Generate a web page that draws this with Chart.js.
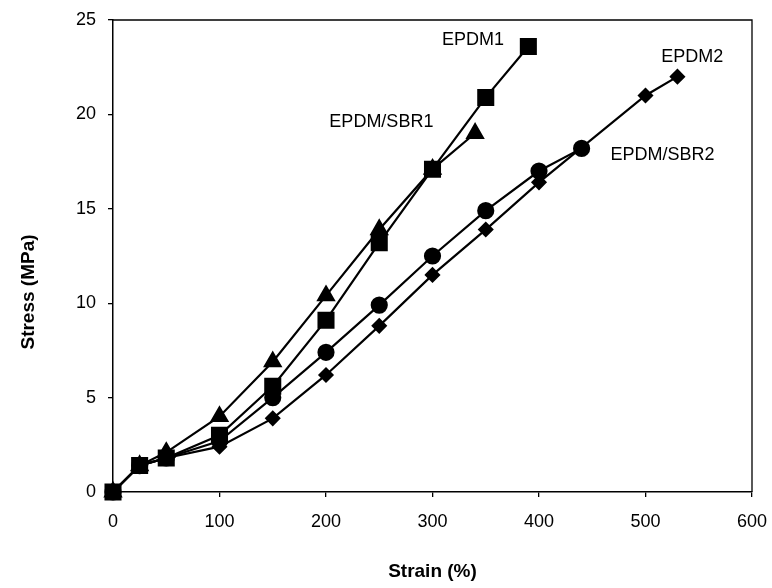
<!DOCTYPE html>
<html>
<head>
<meta charset="utf-8">
<script src="https://cdn.jsdelivr.net/npm/chart.js@4.4.1/dist/chart.umd.min.js"></script>
<style>
  html, body { margin: 0; padding: 0; background: #fff; }
  #wrap { width: 772px; height: 588px; position: relative; }
</style>
</head>
<body>
<div id="wrap"><canvas id="c" width="772" height="588"></canvas></div>
<script>
// ---- data ----
const epdm1Strain    = [0, 25, 50, 100, 150, 200, 250, 300, 350, 390];
const epdm1Stress    = [0, 1.4, 1.8, 3.0, 5.6, 9.1, 13.2, 17.1, 20.9, 23.6];

const epdmSbr1Strain = [0, 25, 50, 100, 150, 200, 250, 300, 340];
const epdmSbr1Stress = [0, 1.4, 2.1, 4.0, 6.9, 10.4, 13.9, 17.1, 19.0];

const epdmSbr2Strain = [0, 25, 50, 100, 150, 200, 250, 300, 350, 400, 440];
const epdmSbr2Stress = [0, 1.4, 1.8, 2.7, 5.0, 7.4, 9.9, 12.5, 14.9, 17.0, 18.2];

const epdm2Strain    = [0, 25, 50, 100, 150, 200, 250, 300, 350, 400, 500, 530];
const epdm2Stress    = [0, 1.4, 1.8, 2.4, 3.9, 6.2, 8.8, 11.5, 13.9, 16.4, 21.0, 22.0];

const seriesNames = ['EPDM1', 'EPDM/SBR1', 'EPDM/SBR2', 'EPDM2'];
const xTickValues = [0, 100, 200, 300, 400, 500, 600];
const yTickValues = [0, 5, 10, 15, 20, 25];
const xTitle = 'Strain (%)';
const yTitle = 'Stress (MPa)';

// in-plot series labels: [text, strain, stress] anchor (label centre)
const labelAnchors = [
  ['EPDM1', 338, 23.95],
  ['EPDM/SBR1', 252, 19.6],
  ['EPDM2', 544, 23.05],
  ['EPDM/SBR2', 516, 17.85]
];

const toPts = (xs, ys) => xs.map((x, i) => ({ x: x, y: ys[i] }));

const FONT = '"Liberation Sans", Arial, sans-serif';

const framePlugin = {
  id: 'frame',
  afterDraw(chart) {
    const { ctx, chartArea: a, scales } = chart;
    ctx.save();
    ctx.strokeStyle = '#000';
    ctx.lineWidth = 1.3;
    ctx.beginPath();
    ctx.moveTo(a.left, a.top);
    ctx.lineTo(a.right, a.top);
    ctx.lineTo(a.right, a.bottom);
    ctx.stroke();
    // series labels
    ctx.fillStyle = '#000';
    ctx.font = '18px ' + FONT;
    ctx.textAlign = 'center';
    ctx.textBaseline = 'middle';
    labelAnchors.forEach(([t, x, y]) => {
      ctx.fillText(t, scales.x.getPixelForValue(x), scales.y.getPixelForValue(y));
    });
    // y axis title
    ctx.font = 'bold 19px ' + FONT;
    ctx.translate(29, 292);
    ctx.rotate(-Math.PI / 2);
    ctx.fillText(yTitle, 0, 0);
    ctx.restore();
  }
};

const common = { borderColor: '#000', backgroundColor: '#000', pointBackgroundColor: '#000',
  pointBorderColor: '#000', borderWidth: 2.2, showLine: true, fill: false, tension: 0, clip: false };

new Chart(document.getElementById('c'), {
  type: 'scatter',
  data: {
    datasets: [
      Object.assign({ label: seriesNames[3], data: toPts(epdm2Strain, epdm2Stress), pointStyle: 'rectRot', pointRadius: 6.5 }, common),
      Object.assign({ label: seriesNames[2], data: toPts(epdmSbr2Strain, epdmSbr2Stress), pointStyle: 'circle', pointRadius: 7.5 }, common),
      Object.assign({ label: seriesNames[1], data: toPts(epdmSbr1Strain, epdmSbr1Stress), pointStyle: 'triangle', pointRadius: 9 }, common),
      Object.assign({ label: seriesNames[0], data: toPts(epdm1Strain, epdm1Stress), pointStyle: 'rect', pointRadius: 10.5 }, common)
    ]
  },
  options: {
    responsive: false,
    animation: false,
    devicePixelRatio: 1,
    layout: { padding: { top: 20, right: 20, left: 0, bottom: 0 } },
    plugins: { legend: { display: false }, tooltip: { enabled: false } },
    elements: { point: { borderWidth: 0, hoverRadius: 0 } },
    scales: {
      x: {
        type: 'linear', min: 0, max: 600,
        afterBuildTicks: s => { s.ticks = xTickValues.map(v => ({ value: v })); },
        afterFit: s => { s.height = 96; s.paddingRight = 0; s.paddingLeft = 0; },
        grid: { drawOnChartArea: false, drawTicks: true, tickLength: 5, color: '#000', lineWidth: 1.3 },
        border: { display: true, color: '#000', width: 1.5 },
        ticks: { color: '#000', font: { family: FONT, size: 18 }, padding: 14, maxRotation: 0 },
        title: { display: true, text: xTitle, color: '#000', font: { family: FONT, size: 19, weight: 'bold' }, padding: { bottom: 5 } }
      },
      y: {
        type: 'linear', min: 0, max: 25,
        afterBuildTicks: s => { s.ticks = yTickValues.map(v => ({ value: v })); },
        afterFit: s => { s.width = 113; s.paddingTop = 0; s.paddingBottom = 0; },
        grid: { drawOnChartArea: false, drawTicks: true, tickLength: 5, color: '#000', lineWidth: 1.3 },
        border: { display: true, color: '#000', width: 1.5 },
        ticks: { color: '#000', font: { family: FONT, size: 18 }, padding: 12 },
        title: { display: false }
      }
    }
  },
  plugins: [framePlugin]
});
</script>
</body>
</html>
